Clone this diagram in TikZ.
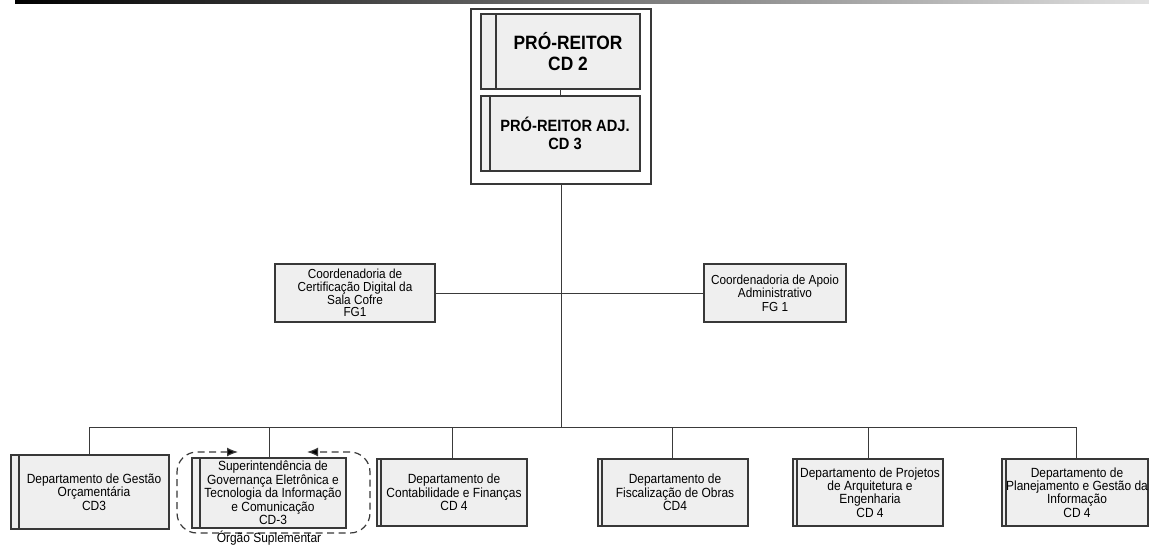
\documentclass[tikz,border=0pt]{standalone}
\usepackage{fontspec}
\setmainfont{Liberation Sans}[FakeStretch=0.9]
\usetikzlibrary{arrows.meta}
\definecolor{boxfill}{HTML}{EFEFEF}
\definecolor{boxdraw}{HTML}{383838}
\definecolor{wire}{HTML}{3A3A3A}
\tikzset{
  box/.style={draw=boxdraw, fill=boxfill, line width=1.1pt, inner sep=0pt, outer sep=0pt},
  strip/.style={draw=boxdraw, line width=1.1pt},
  boxtext/.style={align=center, inner sep=0pt, text=black},
  small/.style={font=\fontsize{13.3}{13.4}\selectfont},
  wirestyle/.style={draw=wire, line width=1pt},
  ring/.style={draw=boxdraw, line width=1.2pt, dash pattern=on 7pt off 4.5pt, rounded corners=20pt},
  ringtip/.tip={Latex[length=11pt, width=9pt, fill=black]}
}
% box with a ruled strip on its left side and text centred right of the strip
\newcommand\orgbox[7][small]{%
  \node[box, minimum width=#4, minimum height=#5] (#2) at #3 {};
  \draw[strip] ([xshift=#6]#2.north west) -- ([xshift=#6]#2.south west);
  \node[boxtext, #1] (#2-t) at ([xshift=#6/2]#2.center) {#7};
}
\begin{document}
\begin{tikzpicture}[x=1pt, y=-1pt]
\useasboundingbox (0,0) rectangle (1149,544);
% header bar
\shade[left color=black, right color=black!12] (15,0) rectangle (1149,3);

% rectorate block
\node[draw=boxdraw, fill=white, line width=1.8pt, minimum width=180, minimum height=175, inner sep=0pt, outer sep=0pt] (outer) at (561,96.5) {};
\orgbox[font=\bfseries\fontsize{19.3}{21}\selectfont]{pr}{(560.5,51.5)}{159}{75}{15}{PRÓ-REITOR\\CD 2}
\orgbox[font=\bfseries\fontsize{16.3}{17.5}\selectfont]{adj}{(560.5,133.5)}{159}{75}{9}{PRÓ-REITOR ADJ.\\CD 3}
\draw[wirestyle] (pr.south) -- (adj.north);

% staff units
\node[box, minimum width=160, minimum height=58, boxtext, font=\fontsize{13.1}{12.2}\selectfont] (cert) at (355,293)
  {Coordenadoria de\\Certificação Digital da\\Sala Cofre\\FG1};
\node[box, minimum width=142, minimum height=58, boxtext, font=\fontsize{13.1}{13.5}\selectfont] (apoio) at (775,293)
  {Coordenadoria de Apoio\\Administrativo\\FG 1};

% departments
\orgbox{d1}{(90,492)}{158}{74}{8}{Departamento de Gestão\\Orçamentária\\CD3}
\orgbox{d2}{(269,493)}{154}{70}{8}{Superintendência de\\Governança Eletrônica e\\Tecnologia da Informação\\e Comunicação\\CD-3}
\orgbox{d3}{(452,492.5)}{150}{67}{4}{Departamento de\\Contabilidade e Finanças\\CD 4}
\orgbox{d4}{(673,492.5)}{150}{67}{4}{Departamento de\\Fiscalização de Obras\\CD4}
\orgbox{d5}{(868,492.5)}{150}{67}{4}{Departamento de Projetos\\de Arquitetura e\\Engenharia\\CD 4}
\orgbox{d6}{(1075,492.5)}{146}{67}{4}{Departamento de\\Planejamento e Gestão da\\Informação\\CD 4}

% connectors
\coordinate (bus) at (561,427);
\draw[wirestyle] (outer.south) -- (bus);
\draw[wirestyle] (cert.east) -- (apoio.west);
\coordinate (busL) at (89,427);
\coordinate (busR) at (1076,427);
\draw[wirestyle] (busL) -- (busR);
\draw[wirestyle] (busL) -- (busL |- d1.north);
\draw[wirestyle] (d2.north |- busL) -- (d2.north);
\draw[wirestyle] (d3.north |- busL) -- (d3.north);
\coordinate (busF) at (672,427);
\draw[wirestyle] (busF) -- (busF |- d4.north);
\draw[wirestyle] (d5.north |- busL) -- (d5.north);
\draw[wirestyle] (busR) -- (busR |- d6.north);

% supplementary body outline
\coordinate (ringA) at (238,452);
\coordinate (ringB) at (307,452);
\draw[ring, ringtip-ringtip]
  (ringA) -- (177,452) -- (177,533) -- (370,533) -- (370,452) -- (ringB);
\node[font=\fontsize{13.3}{12}\selectfont, inner sep=0pt, anchor=base] (orgao) at (269,542) {Órgão Suplementar};
\end{tikzpicture}
\end{document}
